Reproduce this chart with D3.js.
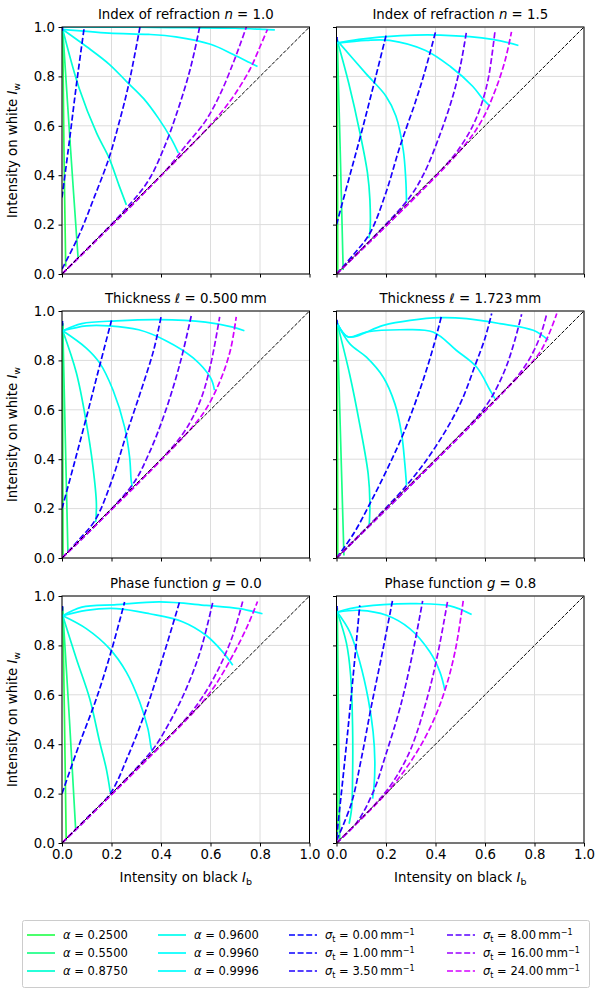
<!DOCTYPE html>
<html>
<head>
<meta charset="utf-8">
<script src="https://cdn.jsdelivr.net/npm/d3@7"></script>
<style>
  body { margin: 0; background: #fff; }
  svg text { font-family: "DejaVu Sans", sans-serif; fill: #000; }
</style>
</head>
<body>
<div id="chart"></div>
<script>
// Curve labels and colours
var alphaValues = ["0.2500", "0.5500", "0.8750", "0.9600", "0.9960", "0.9996"];
var sigmaValues = ["0.00", "1.00", "3.50", "8.00", "16.00", "24.00"];
var alphaColors = ["#2bff52", "#1aff86", "#00ffd2", "#00fff0", "#00ffff", "#00ffff"];
var sigmaColors = ["#0000ff", "#0a00ff", "#1e00ff", "#5a00ff", "#9c00ff", "#d400ff"];
var tickValues = [0, 0.2, 0.4, 0.6, 0.8, 1.0];

// Panel titles: [prefix, italic symbol, suffix]
var panelTitles = [
  ["Index of refraction ", "n", " = 1.0"],
  ["Index of refraction ", "n", " = 1.5"],
  ["Thickness ", "\u2113", " = 0.500\u2009mm"],
  ["Thickness ", "\u2113", " = 1.723\u2009mm"],
  ["Phase function ", "g", " = 0.0"],
  ["Phase function ", "g", " = 0.8"]
];

// Each panel: solid curves per albedo, dashed curves per extinction; points are [I_b, I_w]
var n10Alpha = [
  [[0.003, 0.99], [0.008, 0.5], [0.015, 0.03]],
  [[0.003, 0.99], [0.035, 0.5], [0.065, 0.065]],
  [[0.003, 0.99], [0.07, 0.75], [0.14, 0.57], [0.19, 0.47], [0.23, 0.36], [0.26, 0.28]],
  [[0.003, 0.99], [0.1, 0.92], [0.19, 0.85], [0.26, 0.78], [0.33, 0.71], [0.39, 0.63], [0.44, 0.55], [0.47, 0.49]],
  [[0.003, 0.99], [0.19, 0.975], [0.35, 0.97], [0.46, 0.96], [0.6, 0.93], [0.69, 0.89], [0.76, 0.855], [0.79, 0.84]],
  [[0.003, 1.0], [0.3, 0.999], [0.5, 0.997], [0.7, 0.995], [0.82, 0.99], [0.86, 0.988]]
];
var n10Sigma = [
  [[0.002, 0.985], [0.002, 1.0]],
  [[0.0, 0.31], [0.03, 0.54], [0.06, 0.78], [0.09, 1.0]],
  [[0.0, 0.02], [0.07, 0.16], [0.13, 0.31], [0.19, 0.47], [0.23, 0.61], [0.27, 0.77], [0.315, 1.0]],
  [[0.0, 0.0], [0.25, 0.255], [0.35, 0.38], [0.42, 0.53], [0.47, 0.67], [0.51, 0.8], [0.535, 0.9], [0.556, 1.0]],
  [[0.0, 0.0], [0.42, 0.42], [0.5, 0.52], [0.58, 0.62], [0.64, 0.73], [0.69, 0.85], [0.72, 0.93], [0.745, 1.0]],
  [[0.0, 0.0], [0.55, 0.55], [0.64, 0.65], [0.7, 0.73], [0.76, 0.83], [0.8, 0.92], [0.83, 0.99]]
];

var n15Alpha = [
  [[0.003, 0.95], [0.004, 0.5], [0.005, 0.005]],
  [[0.003, 0.95], [0.015, 0.5], [0.027, 0.016]],
  [[0.003, 0.945], [0.05, 0.77], [0.095, 0.57], [0.125, 0.41], [0.135, 0.3], [0.135, 0.17], [0.13, 0.145]],
  [[0.003, 0.945], [0.12, 0.81], [0.2, 0.72], [0.24, 0.64], [0.27, 0.5], [0.28, 0.38], [0.283, 0.29]],
  [[0.003, 0.935], [0.12, 0.946], [0.215, 0.946], [0.36, 0.905], [0.46, 0.84], [0.55, 0.76], [0.59, 0.71], [0.62, 0.68]],
  [[0.003, 0.935], [0.09, 0.95], [0.26, 0.965], [0.42, 0.967], [0.63, 0.95], [0.735, 0.925]]
];
var n15Sigma = [
  [[0.002, 0.94], [0.002, 0.96]],
  [[0.0, 0.2], [0.05, 0.385], [0.1, 0.57], [0.15, 0.765], [0.2, 0.965]],
  [[0.0, 0.0], [0.07, 0.08], [0.135, 0.165], [0.2, 0.33], [0.256, 0.515], [0.32, 0.7], [0.36, 0.83], [0.4, 0.98]],
  [[0.0, 0.0], [0.28, 0.29], [0.35, 0.4], [0.42, 0.57], [0.47, 0.72], [0.5, 0.84], [0.525, 0.98]],
  [[0.0, 0.0], [0.45, 0.45], [0.52, 0.545], [0.56, 0.62], [0.59, 0.7], [0.615, 0.8], [0.64, 0.98]],
  [[0.0, 0.0], [0.5, 0.5], [0.586, 0.62], [0.64, 0.74], [0.68, 0.86], [0.707, 0.98]]
];

var l05Alpha = [
  [[0.003, 0.95], [0.003, 0.5], [0.004, 0.01]],
  [[0.003, 0.95], [0.013, 0.5], [0.024, 0.02]],
  [[0.003, 0.92], [0.058, 0.75], [0.098, 0.55], [0.125, 0.37], [0.139, 0.22], [0.136, 0.145]],
  [[0.003, 0.92], [0.098, 0.85], [0.152, 0.79], [0.206, 0.68], [0.253, 0.53], [0.273, 0.41], [0.28, 0.31], [0.284, 0.29]],
  [[0.003, 0.92], [0.098, 0.94], [0.19, 0.94], [0.31, 0.924], [0.42, 0.88], [0.53, 0.81], [0.6, 0.73], [0.616, 0.68]],
  [[0.003, 0.92], [0.08, 0.949], [0.22, 0.96], [0.39, 0.965], [0.58, 0.955], [0.69, 0.935], [0.737, 0.92]]
];
var l05Sigma = [
  [[0.002, 0.94], [0.002, 0.96]],
  [[0.0, 0.2], [0.05, 0.385], [0.1, 0.575], [0.15, 0.77], [0.2, 0.962]],
  [[0.0, 0.0], [0.07, 0.075], [0.135, 0.155], [0.2, 0.31], [0.26, 0.5], [0.32, 0.68], [0.37, 0.84], [0.4, 0.975]],
  [[0.0, 0.0], [0.28, 0.29], [0.35, 0.42], [0.42, 0.6], [0.48, 0.8], [0.522, 0.98]],
  [[0.0, 0.0], [0.42, 0.42], [0.5, 0.52], [0.56, 0.64], [0.6, 0.78], [0.637, 0.976]],
  [[0.0, 0.0], [0.5, 0.5], [0.58, 0.6], [0.64, 0.72], [0.68, 0.84], [0.704, 0.976]]
];

var l17Alpha = [
  [[0.003, 0.96], [0.004, 0.5], [0.005, 0.01]],
  [[0.003, 0.96], [0.016, 0.5], [0.03, 0.01]],
  [[0.003, 0.95], [0.054, 0.74], [0.094, 0.54], [0.128, 0.34], [0.135, 0.22], [0.132, 0.13]],
  [[0.003, 0.95], [0.054, 0.867], [0.121, 0.813], [0.189, 0.732], [0.236, 0.624], [0.263, 0.503], [0.276, 0.382], [0.283, 0.294]],
  [[0.003, 0.95], [0.047, 0.895], [0.121, 0.915], [0.256, 0.924], [0.39, 0.915], [0.485, 0.84], [0.566, 0.773], [0.62, 0.68], [0.64, 0.645]],
  [[0.003, 0.95], [0.047, 0.895], [0.189, 0.942], [0.297, 0.962], [0.418, 0.973], [0.526, 0.969], [0.66, 0.949], [0.795, 0.922], [0.856, 0.882]]
];
var l17Sigma = [
  [[0.002, 0.945], [0.002, 0.965]],
  [[0.0, 0.0], [0.07, 0.1], [0.135, 0.22], [0.2, 0.35], [0.27, 0.503], [0.34, 0.69], [0.39, 0.85], [0.425, 0.983]],
  [[0.0, 0.0], [0.28, 0.29], [0.4, 0.45], [0.5, 0.625], [0.56, 0.78], [0.6, 0.89], [0.627, 0.99]],
  [[0.0, 0.0], [0.55, 0.55], [0.62, 0.64], [0.68, 0.76], [0.72, 0.88], [0.748, 0.987]],
  [[0.0, 0.0], [0.7, 0.7], [0.77, 0.79], [0.82, 0.89], [0.85, 0.99]],
  [[0.0, 0.0], [0.75, 0.75], [0.82, 0.83], [0.86, 0.91], [0.89, 0.99]]
];

var g00Alpha = [
  [[0.003, 0.955], [0.01, 0.5], [0.017, 0.01]],
  [[0.003, 0.94], [0.03, 0.5], [0.055, 0.058]],
  [[0.003, 0.92], [0.058, 0.746], [0.112, 0.584], [0.152, 0.41], [0.179, 0.3], [0.195, 0.206]],
  [[0.003, 0.92], [0.098, 0.868], [0.192, 0.787], [0.26, 0.692], [0.314, 0.571], [0.347, 0.463], [0.361, 0.382], [0.365, 0.37]],
  [[0.003, 0.92], [0.098, 0.942], [0.22, 0.949], [0.354, 0.928], [0.489, 0.895], [0.583, 0.84], [0.65, 0.773], [0.69, 0.72]],
  [[0.003, 0.92], [0.08, 0.955], [0.22, 0.965], [0.394, 0.976], [0.583, 0.962], [0.717, 0.949], [0.81, 0.928]]
];
var g00Sigma = [
  [[0.002, 0.94], [0.002, 0.96]],
  [[0.0, 0.2], [0.07, 0.4], [0.139, 0.585], [0.2, 0.78], [0.253, 0.976]],
  [[0.0, 0.0], [0.1, 0.1], [0.195, 0.2], [0.27, 0.36], [0.34, 0.54], [0.41, 0.76], [0.475, 0.976]],
  [[0.0, 0.0], [0.36, 0.37], [0.43, 0.48], [0.5, 0.62], [0.56, 0.78], [0.61, 0.978]],
  [[0.0, 0.0], [0.48, 0.48], [0.56, 0.58], [0.63, 0.7], [0.69, 0.84], [0.73, 0.978]],
  [[0.0, 0.0], [0.55, 0.55], [0.62, 0.64], [0.69, 0.76], [0.75, 0.88], [0.79, 0.978]]
];

var g08Alpha = [
  [[0.003, 0.95], [0.003, 0.5], [0.004, 0.01]],
  [[0.003, 0.95], [0.008, 0.5], [0.013, 0.01]],
  [[0.003, 0.935], [0.04, 0.81], [0.057, 0.68], [0.065, 0.47], [0.065, 0.27], [0.061, 0.139], [0.051, 0.078]],
  [[0.003, 0.935], [0.054, 0.854], [0.094, 0.733], [0.128, 0.584], [0.148, 0.449], [0.155, 0.328], [0.151, 0.22], [0.146, 0.18]],
  [[0.003, 0.935], [0.094, 0.942], [0.202, 0.922], [0.296, 0.868], [0.377, 0.774], [0.418, 0.692], [0.438, 0.618]],
  [[0.003, 0.935], [0.054, 0.949], [0.189, 0.965], [0.323, 0.969], [0.458, 0.96], [0.546, 0.925]]
];
var g08Sigma = [
  [[0.002, 0.94], [0.002, 0.96]],
  [[0.0, 0.02], [0.03, 0.3], [0.06, 0.6], [0.094, 0.962]],
  [[0.0, 0.01], [0.06, 0.16], [0.1, 0.34], [0.14, 0.55], [0.185, 0.77], [0.226, 0.98]],
  [[0.0, 0.0], [0.08, 0.08], [0.148, 0.206], [0.2, 0.36], [0.26, 0.56], [0.31, 0.78], [0.348, 0.98]],
  [[0.0, 0.0], [0.15, 0.15], [0.23, 0.25], [0.3, 0.38], [0.37, 0.6], [0.41, 0.77], [0.449, 0.98]],
  [[0.0, 0.0], [0.2, 0.2], [0.3, 0.33], [0.38, 0.47], [0.438, 0.618], [0.48, 0.78], [0.512, 0.98]]
];

var panelAlpha = [n10Alpha, n15Alpha, l05Alpha, l17Alpha, g00Alpha, g08Alpha];
var panelSigma = [n10Sigma, n15Sigma, l05Sigma, l17Sigma, g00Sigma, g08Sigma];

// Layout
var width = 595, height = 990;
var colX = [62, 336.5];
var rowY = [27, 311, 596];
var pw = 247.5, ph = 247;
var fontSize = "13.3px";

var svg = d3.select("#chart").append("svg")
    .attr("width", width)
    .attr("height", height);

var x = d3.scaleLinear().domain([0, 1]).range([0, pw]);
var y = d3.scaleLinear().domain([0, 1]).range([ph, 0]);

var line = d3.line()
    .x(function(d) { return x(d[0]); })
    .y(function(d) { return y(d[1]); });

var smooth = d3.line()
    .x(function(d) { return x(d[0]); })
    .y(function(d) { return y(d[1]); })
    .curve(d3.curveCatmullRom.alpha(0.5));

panelTitles.forEach(function(title, i) {
  var col = i % 2, row = Math.floor(i / 2);
  var g = svg.append("g").attr("transform", "translate(" + colX[col] + "," + rowY[row] + ")");

  g.append("clipPath").attr("id", "clip" + i)
    .append("rect").attr("width", pw).attr("height", ph);

  // grid
  g.append("g").selectAll("line.gx").data(tickValues).enter().append("line")
    .attr("x1", function(d) { return x(d); }).attr("x2", function(d) { return x(d); })
    .attr("y1", 0).attr("y2", ph)
    .attr("stroke", "#dcdcdc").attr("stroke-width", 1);
  g.append("g").selectAll("line.gy").data(tickValues).enter().append("line")
    .attr("y1", function(d) { return y(d); }).attr("y2", function(d) { return y(d); })
    .attr("x1", 0).attr("x2", pw)
    .attr("stroke", "#dcdcdc").attr("stroke-width", 1);

  var plot = g.append("g").attr("clip-path", "url(#clip" + i + ")");

  // albedo curves
  panelAlpha[i].forEach(function(pts, k) {
    plot.append("path")
      .attr("d", smooth(pts))
      .attr("fill", "none")
      .attr("stroke", alphaColors[k])
      .attr("stroke-width", 1.7)
      .attr("stroke-linejoin", "round");
  });

  // extinction curves
  panelSigma[i].forEach(function(pts, k) {
    plot.append("path")
      .attr("d", smooth(pts))
      .attr("fill", "none")
      .attr("stroke", sigmaColors[k])
      .attr("stroke-width", 1.7)
      .attr("stroke-dasharray", "6,2.6");
  });

  // diagonal
  plot.append("path")
    .attr("d", line([[0, 0], [1, 1]]))
    .attr("fill", "none")
    .attr("stroke", "#000")
    .attr("stroke-width", 1)
    .attr("stroke-dasharray", "3.7,1.6");

  // axes
  var xAxis = d3.axisBottom(x).tickValues(tickValues).tickSize(3.5).tickPadding(3.5)
    .tickFormat(row === 2 ? d3.format(".1f") : "");
  var yAxis = d3.axisLeft(y).tickValues(tickValues).tickSize(3.5).tickPadding(3.5)
    .tickFormat(col === 0 ? d3.format(".1f") : "");

  var gx = g.append("g").attr("transform", "translate(0," + ph + ")").call(xAxis);
  var gy = g.append("g").call(yAxis);
  [gx, gy].forEach(function(a) {
    a.select(".domain").remove();
    a.selectAll("line").attr("stroke", "#000").attr("stroke-width", 1);
    a.selectAll("text").style("font-size", fontSize).style("font-family", "DejaVu Sans, sans-serif");
  });

  g.append("rect").attr("width", pw).attr("height", ph)
    .attr("fill", "none").attr("stroke", "#000").attr("stroke-width", 1);

  // title
  var t = g.append("text").attr("x", pw / 2).attr("y", -8)
    .attr("text-anchor", "middle").style("font-size", fontSize);
  t.append("tspan").text(title[0]);
  t.append("tspan").style("font-style", "italic").text(title[1]);
  t.append("tspan").text(title[2]);

  // labels
  if (col === 0) {
    var yl = g.append("text")
      .attr("transform", "translate(-45," + (ph / 2) + ") rotate(-90)")
      .attr("text-anchor", "middle").style("font-size", fontSize);
    yl.append("tspan").text("Intensity on white ");
    yl.append("tspan").style("font-style", "italic").text("I");
    yl.append("tspan").attr("dy", 3).style("font-size", "9.5px").text("w");
  }
  if (row === 2) {
    var xl = g.append("text")
      .attr("x", pw / 2).attr("y", ph + 39)
      .attr("text-anchor", "middle").style("font-size", fontSize);
    xl.append("tspan").text("Intensity on black ");
    xl.append("tspan").style("font-style", "italic").text("I");
    xl.append("tspan").attr("dy", 3).style("font-size", "9.5px").text("b");
  }
});

// Legend
var legend = svg.append("g");
legend.append("rect")
  .attr("x", 22.5).attr("y", 920.5).attr("width", 567).attr("height", 67)
  .attr("rx", 2).attr("fill", "#fff").attr("stroke", "#cccccc");

var legX = [27, 158, 289, 447];
var legY = [935, 953, 971];

alphaValues.forEach(function(v, k) {
  var cx = legX[Math.floor(k / 3)], cy = legY[k % 3];
  legend.append("line").attr("x1", cx).attr("x2", cx + 28).attr("y1", cy).attr("y2", cy)
    .attr("stroke", alphaColors[k]).attr("stroke-width", 1.7);
  var tx = legend.append("text").attr("x", cx + 36).attr("y", cy + 4).style("font-size", "11.5px");
  tx.append("tspan").style("font-style", "italic").text("\u03b1");
  tx.append("tspan").text(" = " + v);
});

sigmaValues.forEach(function(v, k) {
  var cx = legX[2 + Math.floor(k / 3)], cy = legY[k % 3];
  legend.append("line").attr("x1", cx).attr("x2", cx + 28).attr("y1", cy).attr("y2", cy)
    .attr("stroke", sigmaColors[k]).attr("stroke-width", 1.7)
    .attr("stroke-dasharray", "6,2.6");
  var tx = legend.append("text").attr("x", cx + 36).attr("y", cy + 4).style("font-size", "11.5px");
  tx.append("tspan").style("font-style", "italic").text("\u03c3");
  tx.append("tspan").attr("dy", 2.5).style("font-size", "8px").text("t");
  tx.append("tspan").attr("dy", -2.5).text(" = " + v + "\u2009mm");
  tx.append("tspan").attr("dy", -4.5).style("font-size", "8px").text("\u22121");
});
</script>
</body>
</html>
